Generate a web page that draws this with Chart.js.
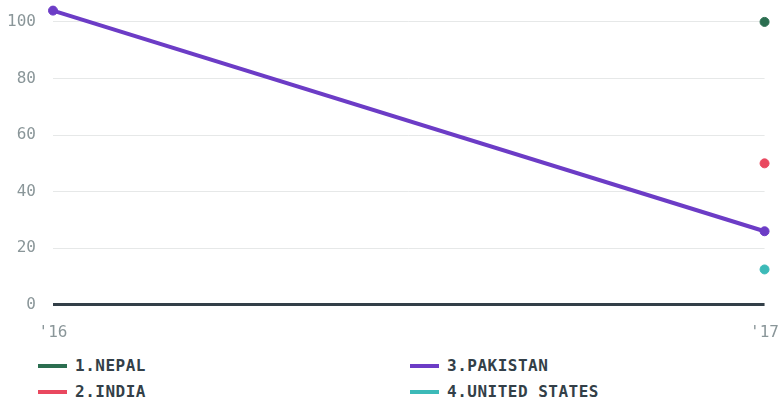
<!DOCTYPE html>
<html>
<head>
<meta charset="utf-8">
<script src="https://cdn.jsdelivr.net/npm/chart.js@4"></script>
<style>
  html, body { margin: 0; padding: 0; background: #fff; overflow: hidden; }
  #wrap { position: relative; width: 778px; height: 350px; overflow: hidden; }
  #chart { display: block; margin-top: -16px; }
  #legend {
    position: relative; width: 778px; height: 51px;
    font-family: "DejaVu Sans Mono", monospace; font-weight: bold;
    font-size: 16px; color: #333f48; letter-spacing: 0.5px;
  }
  .item { position: absolute; display: flex; align-items: center; }
  .swatch { width: 29px; height: 4px; margin-right: 8px; }
</style>
</head>
<body>
<div id="wrap"><canvas id="chart" width="789" height="368"></canvas></div>
<div id="legend"></div>
<script>
// =========================
// DATA
// =========================
const years = ["'16", "'17"];
const nepal = [null, 100];
const india = [null, 50];
const pakistan = [104, 26];
const unitedStates = [null, 12.5];
const yTicks = [0, 20, 40, 60, 80, 100];

const seriesNames = ["1.NEPAL", "2.INDIA", "3.PAKISTAN", "4.UNITED STATES"];
const seriesColors = ["#2b6e50", "#e9485f", "#6c3cc6", "#3cbab8"];
const seriesData = [nepal, india, pakistan, unitedStates];

// =========================
// CHART
// =========================
const datasets = seriesData.map((d, i) => ({
  label: seriesNames[i],
  data: d,
  borderColor: seriesColors[i],
  backgroundColor: seriesColors[i],
  borderWidth: 4,
  pointRadius: 4.5,
  pointHoverRadius: 4.5,
  pointBorderWidth: 1,
  tension: 0,
  clip: false,
}));

new Chart(document.getElementById("chart"), {
  type: "line",
  data: { labels: years, datasets },
  options: {
    responsive: false,
    animation: false,
    layout: { padding: { top: 0, right: 0, left: 0, bottom: 0 } },
    plugins: { legend: { display: false }, tooltip: { enabled: false } },
    scales: {
      x: {
        offset: false,
        grid: { display: false },
        border: { display: false },
        ticks: {
          color: "#8a9699",
          font: { family: "DejaVu Sans Mono", size: 16 },
          padding: 10,
        },
      },
      y: {
        min: 0,
        max: 104,
        afterBuildTicks: (axis) => {
          axis.ticks = yTicks.map((v) => ({ value: v }));
        },
        afterFit: (axis) => {
          axis.width = 53;
        },
        border: { display: false },
        grid: {
          drawTicks: false,
          color: (ctx) => (ctx.tick && ctx.tick.value === 0 ? "#333f48" : "#e6e8e8"),
          lineWidth: (ctx) => (ctx.tick && ctx.tick.value === 0 ? 3 : 1),
        },
        ticks: {
          color: "#8a9699",
          font: { family: "DejaVu Sans Mono", size: 16 },
          padding: 17,
        },
      },
    },
  },
});

// =========================
// LEGEND
// =========================
const legendPos = [[38, 6], [38, 32], [410, 6], [410, 32]];
const legendEl = document.getElementById("legend");
seriesNames.forEach((name, i) => {
  const div = document.createElement("div");
  div.className = "item";
  div.style.left = legendPos[i][0] + "px";
  div.style.top = legendPos[i][1] + "px";
  div.innerHTML = `<span class="swatch" style="background:${seriesColors[i]}"></span><span>${name}</span>`;
  legendEl.appendChild(div);
});
</script>
</body>
</html>
